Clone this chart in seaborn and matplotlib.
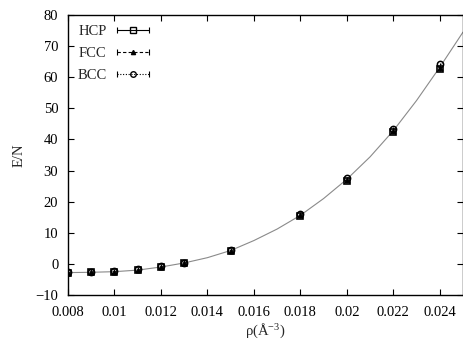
import matplotlib
matplotlib.use("Agg")
import matplotlib.pyplot as plt
import seaborn as sns
from matplotlib.lines import Line2D
from matplotlib.legend_handler import HandlerLine2D, HandlerTuple

# data
rho = [0.008, 0.009, 0.010, 0.011, 0.012, 0.013, 0.015, 0.018, 0.020, 0.022, 0.024]
hcp = [-2.8, -2.7, -2.5, -1.9, -0.9, 0.2, 4.3, 15.5, 26.8, 42.5, 62.5]
fcc = [-2.8, -2.7, -2.5, -1.9, -0.9, 0.2, 4.3, 15.6, 27.0, 42.8, 63.0]
bcc = [-2.7, -2.6, -2.4, -1.8, -0.8, 0.3, 4.4, 16.0, 27.6, 43.5, 64.2]
fit_x = [0.008, 0.009, 0.010, 0.011, 0.012, 0.013, 0.014, 0.015, 0.016, 0.017,
         0.018, 0.019, 0.020, 0.021, 0.022, 0.023, 0.024, 0.025]
fit_y = [-2.8, -2.7, -2.5, -2.0, -1.0, 0.3, 2.0, 4.3, 7.5, 11.2,
         15.6, 21.0, 27.2, 34.4, 42.8, 52.5, 63.2, 74.5]
xticks = [0.008, 0.010, 0.012, 0.014, 0.016, 0.018, 0.020, 0.022, 0.024]
xtick_labels = ["0.008", "0.01", "0.012", "0.014", "0.016", "0.018", "0.02", "0.022", "0.024"]
yticks = [-10, 0, 10, 20, 30, 40, 50, 60, 70, 80]

sns.set_style("ticks")
plt.rcParams["font.family"] = ["Liberation Serif", "DejaVu Serif"]
plt.rcParams["mathtext.fontset"] = "custom"
plt.rcParams["mathtext.rm"] = "Liberation Serif"
plt.rcParams["mathtext.it"] = "Liberation Serif:italic"
plt.rcParams["mathtext.default"] = "regular"

fig = plt.figure(figsize=(4.64, 3.44), dpi=100)
ax = fig.add_axes([68 / 464, 1 - 295 / 344, (463 - 68) / 464, (295 - 15) / 344])

fs = 10.5

sns.lineplot(x=fit_x, y=fit_y, ax=ax, color="#8a8a8a", lw=0.8, legend=False)
sns.lineplot(x=rho, y=hcp, ax=ax, linestyle="none", marker="s", markersize=5,
             markerfacecolor="none", markeredgecolor="black", markeredgewidth=1.2,
             legend=False)
sns.lineplot(x=rho, y=fcc, ax=ax, linestyle="none", marker="^",
             markersize=3.5, markerfacecolor="black", markeredgecolor="black", legend=False)
sns.lineplot(x=rho, y=bcc, ax=ax, linestyle="none", marker="o",
             markersize=4.5, markerfacecolor="none", markeredgecolor="black",
             markeredgewidth=1.1, legend=False)
ax.errorbar(rho, hcp, yerr=0.4, fmt="none", ecolor="black", elinewidth=0.8)
ax.errorbar(rho, bcc, yerr=0.4, fmt="none", ecolor="black", elinewidth=0.8)

ax.set_xlim(0.008, 0.025)
ax.set_ylim(-10, 80)
ax.set_xticks(xticks)
ax.set_xticklabels(xtick_labels, fontsize=fs)
ax.set_yticks(yticks)
ax.set_yticklabels([str(v).replace("-", "\u2212") for v in yticks], fontsize=fs)
ax.tick_params(direction="in", length=4, width=0.8, top=True, right=True, colors="black")
ax.tick_params(axis="x", pad=8)
ax.tick_params(axis="y", pad=7)
for s in ax.spines.values():
    s.set_visible(True)
    s.set_linewidth(1.0)
    s.set_color("black")

ax.set_xlabel("ρ(Å$^{-3}$)", fontsize=fs, labelpad=2)
ax.set_ylabel("E/N", fontsize=fs, labelpad=7)

# gnuplot-like legend keys
handles = []
hmap = {}
styles = [("-", "s", "none", 4.0), ((0, (3, 2)), "^", "black", 3.0), ((0, (1, 1.5)), "o", "none", 4.0)]
for ls, mk, mfc, ms in styles:
    caps = Line2D([0], [0], color="black", lw=0.8, linestyle=ls, marker="|", markersize=5,
                  markeredgewidth=0.8)
    mark = Line2D([0], [0], linestyle="none", marker=mk, markersize=ms, markerfacecolor=mfc,
                  markeredgecolor="black", markeredgewidth=1.0)
    hmap[caps] = HandlerLine2D(numpoints=2)
    hmap[mark] = HandlerLine2D(numpoints=1)
    handles.append((caps, mark))
hmap[tuple] = HandlerTuple(ndivide=1, pad=0)
leg = ax.legend(handles, ["HCP", "FCC", "BCC"], handler_map=hmap,
                loc="upper left", frameon=False, markerfirst=False, fontsize=fs,
                handlelength=2.8, handletextpad=0.4, labelspacing=0.62,
                borderaxespad=0.25, bbox_to_anchor=(0.0, 1.0))

fig.savefig("out.png", dpi=100)
